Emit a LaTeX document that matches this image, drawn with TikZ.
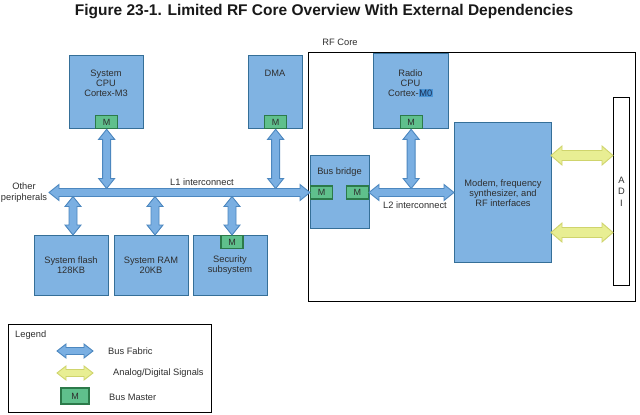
\documentclass[tikz,border=0pt]{standalone}
\usepackage{fontspec}
\setmainfont{Liberation Sans}
\usetikzlibrary{calc}
\definecolor{boxfill}{HTML}{80B3E2}
\definecolor{boxline}{HTML}{356F98}
\definecolor{mfill}{HTML}{5FC08C}
\definecolor{mline}{HTML}{2C7A4A}
\definecolor{bafill}{HTML}{7AAFE2}
\definecolor{baline}{HTML}{4C87BF}
\definecolor{yafill}{HTML}{E8EE93}
\definecolor{yaline}{HTML}{CFD46C}
\definecolor{textc}{HTML}{2E2E2E}
\definecolor{hlbg}{HTML}{4A95D6}
\definecolor{hltx}{HTML}{1B2F55}
\newcommand\bodyfont{\fontsize{9.3}{10}\selectfont}
\newcommand\fatarrow[6]{%
  \path (#2) coordinate (fa-s) (#3) coordinate (fa-e);
  \path ($(fa-s)!#4pt!(fa-e)$) coordinate (fa-a) ($(fa-e)!#4pt!(fa-s)$) coordinate (fa-b);
  \draw[#1] (fa-s) -- ($(fa-a)!#5pt!90:(fa-e)$) -- ($(fa-a)!#6pt!90:(fa-e)$)
    -- ($(fa-b)!#6pt!270:(fa-s)$) -- ($(fa-b)!#5pt!270:(fa-s)$) -- (fa-e)
    -- ($(fa-b)!#5pt!90:(fa-s)$) -- ($(fa-b)!#6pt!90:(fa-s)$)
    -- ($(fa-a)!#6pt!270:(fa-e)$) -- ($(fa-a)!#5pt!270:(fa-e)$) -- cycle;
}
\tikzset{
  box/.style={draw=boxline, fill=boxfill, line width=1.3pt, inner sep=0pt, anchor=north west},
  mbox/.style={draw=mline, fill=mfill, line width=1.2pt, minimum width=22pt, minimum height=13pt,
    inner sep=0pt, font=\fontsize{9}{10}\selectfont, text=textc},
  txt/.style={align=center, font=\bodyfont, text=textc, inner sep=0pt},
  ltxt/.style={font=\bodyfont, text=textc, inner sep=0pt, anchor=west},
  frame/.style={draw=black, line width=1.4pt},
  busarrow/.style={draw=baline, fill=bafill, line width=0.9pt, line join=miter},
  sigarrow/.style={draw=yaline, fill=yafill, line width=0.9pt, line join=miter},
}
\begin{document}
\begin{tikzpicture}[x=1pt,y=-1pt]
\fill[white] (0,0) rectangle (640,415);
\useasboundingbox (0,0) rectangle (640,415);

% title
\node[font=\bfseries\fontsize{15.5}{18}\selectfont, text=black!90, inner sep=0pt] (title) at (324,12)
  {Figure 23-1. Limited RF Core Overview With External Dependencies};

% RF core frame
\node[frame, anchor=north west, minimum width=327pt, minimum height=249pt, inner sep=0pt] (rf) at (308,52) {};
\node[txt] (rflabel) at (340,42) {RF Core};

% boxes
\node[box, minimum width=74pt, minimum height=73pt] (cpu) at (69,55) {};
\node[txt] (cputxt) at (106,83) {System\\CPU\\Cortex-M3};
\node[mbox, anchor=south] (cpuM) at (cpu.south) {M};

\node[box, minimum width=54pt, minimum height=73pt] (dma) at (248,55) {};
\node[txt] (dmatxt) at (275,73) {DMA};
\node[mbox, anchor=south] (dmaM) at (dma.south) {M};

\node[box, minimum width=75pt, minimum height=75pt] (radio) at (373,53) {};
\node[txt] (radiotxt) at (410.5,83) {Radio\\CPU\\Cortex-{\setlength{\fboxsep}{0.6pt}\colorbox{hlbg}{\textcolor{hltx}{M0}}}};
\node[mbox, anchor=south] (radioM) at (radio.south) {M};

\node[box, minimum width=97pt, minimum height=140pt] (modem) at (454,122) {};
\node[txt] (modemtxt) at (503,193) {Modem, frequency\\synthesizer, and\\RF interfaces};

\node[draw=black, line width=1.1pt, fill=white, anchor=north west, minimum width=16pt, minimum height=188pt, inner sep=0pt] (adi) at (613,97) {};
\node[txt, font=\fontsize{9.3}{11.5}\selectfont] (aditxt) at (621.5,191.5) {A\\D\\I};

\node[box, minimum width=59pt, minimum height=73pt] (bb) at (310,155) {};
\node[txt] (bbtxt) at (339.5,172) {Bus bridge};
\node[mbox, anchor=west] (bbL) at (310,192.5) {M};
\node[mbox, anchor=east] (bbR) at (369,192.5) {M};

\node[box, minimum width=74pt, minimum height=60pt] (flash) at (34,235) {};
\node[txt] (flashtxt) at (71,265) {System flash\\128KB};
\node[box, minimum width=74pt, minimum height=60pt] (ram) at (114,235) {};
\node[txt] (ramtxt) at (151,265) {System RAM\\20KB};
\node[box, minimum width=74pt, minimum height=60pt] (sec) at (193,235) {};
\node[txt] (sectxt) at (230,265) {Security\\subsystem};
\node[mbox, anchor=north] (secM) at (232,235) {M};

% bus coordinates
\coordinate (oth) at (49,192.5);
\coordinate (l1top) at (0,188.5);
\coordinate (l1bot) at (0,196.5);
\coordinate (fl) at (73,196.5);
\coordinate (rm) at (155,196.5);
\coordinate (sc) at (232,196.5);
\coordinate (mdl2) at (454,192.5);
\coordinate (l2top) at (0,188.5);
\coordinate (ys1) at (551,155.5);
\coordinate (ys2) at (551,232.5);

\node[txt, font=\fontsize{9.3}{11}\selectfont] (other) at (24,192.5) {Other\\peripherals};
\node[txt] (l1txt) at (202,182) {L1 interconnect};
\node[txt] (l2txt) at (415,205) {L2 interconnect};

% bus arrows
\fatarrow{busarrow}{oth}{bbL.west}{10}{8}{4}
\fatarrow{busarrow}{cpuM.south}{cpuM.south |- l1top}{10}{8}{4}
\fatarrow{busarrow}{dmaM.south}{dmaM.south |- l1top}{10}{8}{4}
\fatarrow{busarrow}{fl}{fl |- flash.north}{10}{8}{4}
\fatarrow{busarrow}{rm}{rm |- ram.north}{10}{8}{4}
\fatarrow{busarrow}{sc}{secM.north}{10}{8}{4}
\fatarrow{busarrow}{bbR.east}{mdl2}{10}{8}{4}
\fatarrow{busarrow}{radioM.south}{radioM.south |- l2top}{10}{8}{4}
% signal arrows
\fatarrow{sigarrow}{ys1}{ys1 -| adi.west}{11}{9.5}{5}
\fatarrow{sigarrow}{ys2}{ys2 -| adi.west}{11}{9.5}{5}

% legend
\node[frame, anchor=north west, minimum width=203pt, minimum height=88pt, inner sep=0pt] (legend) at (8,324) {};
\node[ltxt] (legtitle) at (15,335) {Legend};
\coordinate (lb1) at (57,351);
\coordinate (lb2) at (93,351);
\coordinate (ly1) at (57,373);
\coordinate (ly2) at (93,373);
\fatarrow{busarrow}{lb1}{lb2}{9}{7}{3.5}
\fatarrow{sigarrow}{ly1}{ly2}{9}{7}{3.5}
\node[mbox, minimum width=28pt, minimum height=16pt] (legM) at (75,396) {M};
\node[ltxt] (legbf) at (108,351) {Bus Fabric};
\node[ltxt] (legas) at (113,373) {Analog/Digital Signals};
\node[ltxt] (legbm) at (109,397) {Bus Master};
\end{tikzpicture}
\end{document}
